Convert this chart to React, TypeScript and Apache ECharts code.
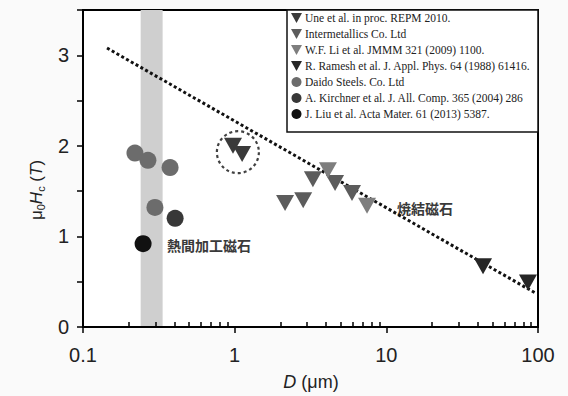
import React, { useEffect, useRef } from "react";
import * as echarts from "echarts";

// Grain size D (µm) vs coercivity µ0Hc (T)
const uneD = [0.975, 1.12];
const uneHc = [2.0, 1.91];
const interD = [2.15, 2.83, 3.28, 4.59, 5.94];
const interHc = [1.37, 1.4, 1.63, 1.59, 1.48];
const liD = [4.12, 7.46];
const liHc = [1.73, 1.34];
const rameshD = [43.4, 85.9];
const rameshHc = [0.67, 0.49];
const daidoD = [0.22, 0.268, 0.375, 0.298];
const daidoHc = [1.92, 1.84, 1.76, 1.32];
const kirchnerD = [0.405];
const kirchnerHc = [1.2];
const liuD = [0.249];
const liuHc = [0.92];

// Sintered-magnet trend line (two end points)
const trendD = [0.144, 95];
const trendHc = [3.08, 0.38];

// Highlighted fine-grain sintered points
const circleD = [1.05];
const circleHc = [1.93];

// Shaded grain-size band for hot-deformed magnets
const bandD = [0.24, 0.335];

// Minor tick positions on the log axis
const minorTicks = [
  0.2, 0.3, 0.4, 0.5, 0.6, 0.7, 0.8, 0.9,
  2, 3, 4, 5, 6, 7, 8, 9,
  20, 30, 40, 50, 60, 70, 80, 90,
];

const seriesNames = [
  "Une et al. in proc. REPM 2010.",
  "Intermetallics Co. Ltd",
  "W.F. Li et al. JMMM 321 (2009) 1100.",
  "R. Ramesh et al. J. Appl. Phys. 64 (1988) 61416.",
  "Daido Steels. Co. Ltd",
  "A. Kirchner et al. J. All. Comp. 365 (2004) 286",
  "J. Liu et al. Acta Mater. 61 (2013) 5387.",
];

const zip = (xs: number[], ys: number[]) => xs.map((x, i) => [x, ys[i]]);

const SANS = "'Liberation Sans', Arial, sans-serif";
const SERIF = "'Liberation Serif', 'Times New Roman', serif";
const CJK = "'Noto Sans CJK JP', 'Noto Sans CJK SC', sans-serif";
const DOWN_TRI = "path://M0,0 L10,0 L5,9 Z";

export default function App() {
  const ref = useRef<HTMLDivElement>(null);

  useEffect(() => {
    if (!ref.current) return;
    const chart = echarts.init(ref.current, undefined, { renderer: "svg" });

    const tri = (name: string, xs: number[], ys: number[], color: string) => ({
      name,
      type: "scatter",
      data: zip(xs, ys),
      symbol: "triangle",
      symbolRotate: 180,
      symbolSize: [18, 16],
      itemStyle: { color, opacity: 1 },
      z: 4,
    });
    const dot = (name: string, xs: number[], ys: number[], color: string) => ({
      name,
      type: "scatter",
      data: zip(xs, ys),
      symbol: "circle",
      symbolSize: 17,
      itemStyle: { color, opacity: 1 },
      z: 4,
    });

    chart.setOption({
      animation: false,
      backgroundColor: "#fafafa",
      grid: {
        left: 83,
        right: 30,
        top: 10,
        bottom: 69,
        show: true,
        borderColor: "#000",
        borderWidth: 2,
        backgroundColor: "#fff",
      },
      xAxis: [
        {
          type: "log",
          logBase: 10,
          min: 0.1,
          max: 100,
          axisLine: { lineStyle: { color: "#000", width: 2 } },
          axisTick: { show: true, inside: false, length: 6, lineStyle: { width: 1.5, color: "#000" } },
          splitLine: { show: false },
          axisLabel: {
            color: "#222",
            fontSize: 20,
            fontFamily: SANS,
            margin: 18,
            formatter: (v: number) => String(+Number(v).toPrecision(3)),
          },
          z: 5,
        },
        {
          // minor ticks inside the bottom axis
          type: "log",
          logBase: 10,
          min: 0.1,
          max: 100,
          position: "bottom",
          axisLine: { show: false },
          axisLabel: { show: false },
          splitLine: { show: false },
          axisTick: {
            show: true,
            inside: true,
            length: 5,
            customValues: minorTicks,
            lineStyle: { width: 1.5, color: "#000" },
          },
          z: 5,
        },
      ],
      yAxis: {
        type: "value",
        min: 0,
        max: 3.5,
        interval: 0.5,
        axisLine: { show: true, lineStyle: { color: "#000", width: 2 } },
        axisTick: { show: true, inside: false, length: 6, lineStyle: { width: 1.5, color: "#000" } },
        splitLine: { show: false },
        axisLabel: {
          color: "#222",
          fontSize: 20,
          fontFamily: SANS,
          margin: 14,
          formatter: (v: number) => (Number.isInteger(v) ? String(v) : ""),
        },
      },
      legend: {
        left: 291,
        top: 12,
        orient: "vertical",
        itemWidth: 11,
        itemHeight: 10,
        itemGap: 4,
        padding: 0,
        z: 7,
        data: seriesNames.map((name, i) => (i < 4 ? { name, icon: DOWN_TRI } : { name, icon: "circle" })),
        textStyle: { fontFamily: SERIF, fontSize: 11.5, color: "#222", padding: [0, 0, 0, -2] },
      },
      graphic: [
        {
          type: "rect",
          z: 6,
          shape: { x: 287, y: 10, width: 251, height: 122 },
          style: { fill: "#fff", stroke: "#111", lineWidth: 1.5 },
        },
        {
          type: "text",
          x: 36,
          y: 190,
          rotation: Math.PI / 2,
          style: {
            text: "{m|μ}{s|0}{i|H}{s|c}{m| (}{i|T}{m|)}",
            align: "center",
            verticalAlign: "middle",
            fill: "#222",
            rich: {
              m: { fontFamily: SANS, fontSize: 17, lineHeight: 20, fill: "#222" },
              i: { fontFamily: SANS, fontSize: 17, lineHeight: 20, fontStyle: "italic", fill: "#222" },
              s: { fontFamily: SANS, fontSize: 11, lineHeight: 11, verticalAlign: "bottom", fill: "#222" },
            },
          },
        },
        {
          type: "text",
          x: 311,
          y: 382,
          style: {
            text: "{i|D}{m| (μm)}",
            align: "center",
            verticalAlign: "middle",
            rich: {
              m: { fontFamily: SANS, fontSize: 18, fill: "#222" },
              i: { fontFamily: SANS, fontSize: 18, fontStyle: "italic", fill: "#222" },
            },
          },
        },
        {
          type: "text",
          x: 167,
          y: 245,
          style: {
            text: "熱間加工磁石",
            fontFamily: CJK,
            fontSize: 14,
            fontWeight: "bold",
            fill: "#3a3a3a",
            verticalAlign: "middle",
          },
        },
        {
          type: "text",
          x: 397,
          y: 208,
          style: {
            text: "焼結磁石",
            fontFamily: CJK,
            fontSize: 14,
            fontWeight: "bold",
            fill: "#3a3a3a",
            verticalAlign: "middle",
          },
        },
      ],
      series: [
        {
          type: "line",
          data: [],
          silent: true,
          z: 1,
          markArea: {
            silent: true,
            itemStyle: { color: "#cfcfcf" },
            data: [[{ xAxis: bandD[0] }, { xAxis: bandD[1] }]],
          },
        },
        {
          type: "line",
          data: zip(trendD, trendHc),
          showSymbol: false,
          silent: true,
          z: 3,
          lineStyle: { color: "#111", width: 3, type: [3, 2.5] },
        },
        {
          type: "scatter",
          data: zip(circleD, circleHc),
          symbol: "circle",
          symbolSize: 42,
          silent: true,
          z: 3,
          itemStyle: { color: "rgba(0,0,0,0)", borderColor: "#111", borderWidth: 2.2, borderType: [3, 3] },
        },
        tri(seriesNames[0], uneD, uneHc, "#3a3a3a"),
        tri(seriesNames[1], interD, interHc, "#5c5c5c"),
        tri(seriesNames[2], liD, liHc, "#7e7e7e"),
        tri(seriesNames[3], rameshD, rameshHc, "#262626"),
        dot(seriesNames[4], daidoD, daidoHc, "#6c6c6c"),
        dot(seriesNames[5], kirchnerD, kirchnerHc, "#383838"),
        dot(seriesNames[6], liuD, liuHc, "#111111"),
      ],
    });

    return () => chart.dispose();
  }, []);

  return (
    <div
      ref={ref}
      style={{ position: "absolute", left: 0, top: 0, width: 568, height: 396 }}
    />
  );
}
